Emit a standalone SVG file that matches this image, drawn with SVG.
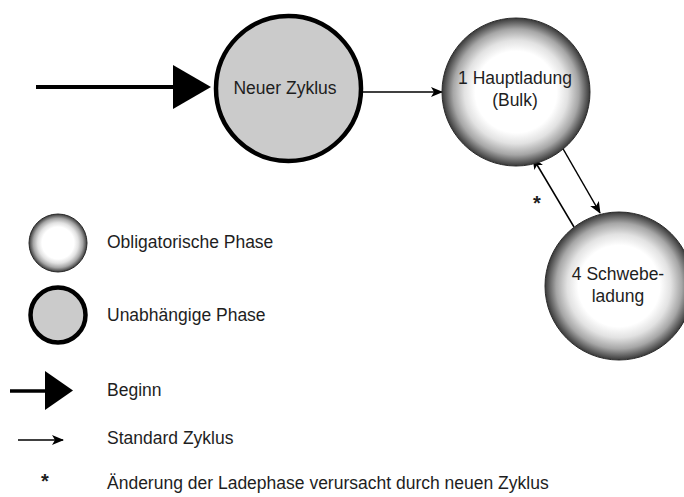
<svg xmlns="http://www.w3.org/2000/svg" width="684" height="497" viewBox="0 0 684 497">
<defs>
<radialGradient id="oblig" cx="50%" cy="50%" r="50%">
<stop offset="0" stop-color="#ffffff"/>
<stop offset="0.55" stop-color="#ffffff"/>
<stop offset="0.7" stop-color="#e2e2e2"/>
<stop offset="0.85" stop-color="#a6a6a6"/>
<stop offset="1" stop-color="#383838"/>
</radialGradient>
<marker id="ah" viewBox="0 0 12 10" refX="11" refY="5" markerWidth="12" markerHeight="10" markerUnits="userSpaceOnUse" orient="auto">
<path d="M0,0 L12,5 L0,10 L3,5 z" fill="#000"/>
</marker>
<style>
.t{font-family:"Liberation Sans",Arial,sans-serif;font-size:17.5px;fill:#1e1e1e}
.c{text-anchor:middle}
.star{font-size:20px;font-weight:bold;text-anchor:middle}
.obl{fill:url(#oblig);stroke:#2a2a2a;stroke-width:1}
.ind{fill:#cbcbcb;stroke:#000;stroke-width:4.5}
.thin{stroke:#000;stroke-width:1.5;fill:none;marker-end:url(#ah)}
.thick{stroke:#000;stroke-width:4;fill:none}
</style>
</defs>
<rect width="684" height="497" fill="#fff"/>

<g id="connectors">
<line class="thick" x1="36" y1="87" x2="176" y2="87"/>
<polygon points="173,65 211,87 173,109" fill="#000"/>
<line class="thin" x1="363" y1="92" x2="442" y2="92"/>
<line class="thin" x1="562" y1="147" x2="600" y2="213"/>
<line class="thin" x1="574" y1="227" x2="533" y2="158"/>
<text class="t star" x="537" y="210">*</text>
</g>

<g id="neuer-zyklus">
<circle class="ind" cx="288.5" cy="88.5" r="72.5"/>
<text class="t c" x="285" y="94">Neuer Zyklus</text>
</g>

<g id="hauptladung">
<circle class="obl" cx="516" cy="92" r="74"/>
<text class="t c" x="515" y="84">1 Hauptladung</text>
<text class="t c" x="515" y="106">(Bulk)</text>
</g>

<g id="schwebeladung">
<circle class="obl" cx="619" cy="286" r="74"/>
<text class="t c" x="618" y="280">4 Schwebe-</text>
<text class="t c" x="618" y="302">ladung</text>
</g>

<g id="legend">
<g id="legend-oblig">
<circle class="obl" cx="58" cy="243" r="29"/>
<text class="t" x="107" y="248">Obligatorische Phase</text>
</g>
<g id="legend-unab">
<circle class="ind" cx="58" cy="315" r="27.5"/>
<text class="t" x="107" y="321">Unabhängige Phase</text>
</g>
<g id="legend-beginn">
<line class="thick" x1="10" y1="391" x2="47" y2="391" style="stroke-width:3.5"/>
<polygon points="45,371 73,390.5 45,410" fill="#000"/>
<text class="t" x="107" y="396">Beginn</text>
</g>
<g id="legend-standard">
<line class="thin" x1="18" y1="440" x2="63" y2="440"/>
<text class="t" x="107" y="444">Standard Zyklus</text>
</g>
<g id="legend-star">
<text class="t star" x="45" y="488">*</text>
<text class="t" x="107" y="489">Änderung der Ladephase verursacht durch neuen Zyklus</text>
</g>
</g>
</svg>
